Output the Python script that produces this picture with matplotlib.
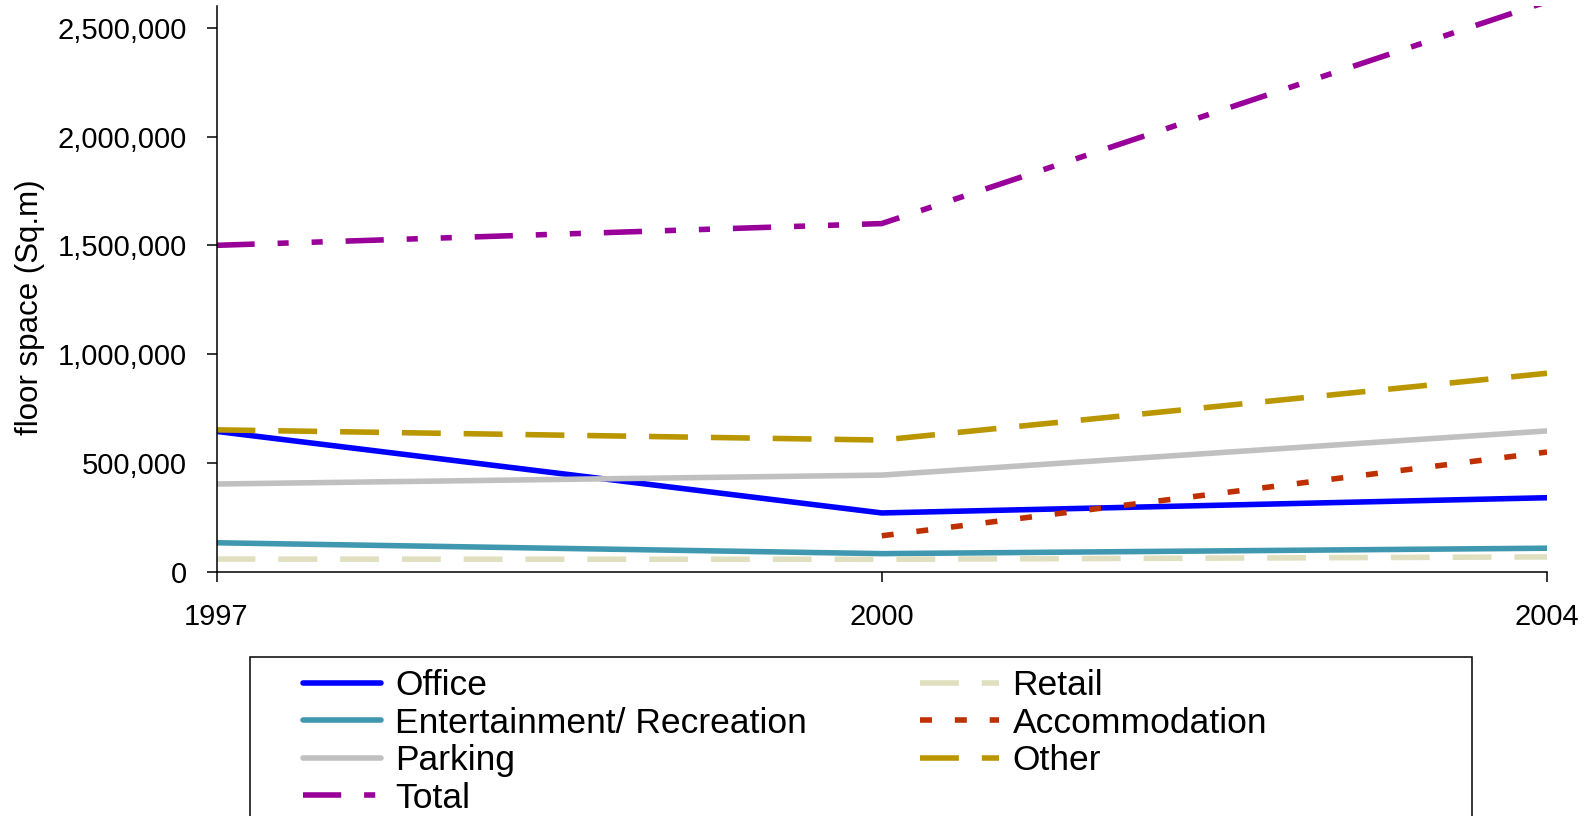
import matplotlib
matplotlib.use("Agg")
import matplotlib.pyplot as plt
from matplotlib.patches import Rectangle
from matplotlib.ticker import FuncFormatter

# Floor space by use, square metres
years = ["1997", "2000", "2004"]
office = [645000, 270000, 340000]
entertainment = [133000, 83000, 108000]
parking = [403000, 444000, 647000]
total = [1500000, 1600000, 2620000]
retail = [58000, 57000, 68000]
accommodation = [None, 165000, 550000]
other = [652000, 605000, 912000]

y_ticks = [0, 500000, 1000000, 1500000, 2000000, 2500000]

plt.rcParams["font.family"] = ["Liberation Sans", "DejaVu Sans"]
plt.rcParams["lines.scale_dashes"] = False

DPI = 100
W, H = 1588, 816
fig = plt.figure(figsize=(W / DPI, H / DPI), dpi=DPI)

left, right, bottom, top = 216.5, 1547, 571.7, 6
ax = fig.add_axes([left / W, 1 - bottom / H, (right - left) / W, (bottom - top) / H])

x = list(range(len(years)))
lw = 4.0
long_dash = (0, (28, 16.5))
total_dash = (0, (27.5, 16.5, 8, 16.5, 8, 16.5))
short_dash = (0, (8.6, 16.5))

series = [
    ("Office", office, "#0000FF", "-"),
    ("Entertainment/ Recreation", entertainment, "#4098B0", "-"),
    ("Parking", parking, "#C0C0C0", "-"),
    ("Total", total, "#990099", total_dash),
    ("Retail", retail, "#E0E0C0", long_dash),
    ("Accommodation", accommodation, "#BF3000", short_dash),
    ("Other", other, "#BA9600", long_dash),
]

handles = {}
for name, vals, color, ls in series:
    xs = [xi for xi, v in zip(x, vals) if v is not None]
    ys = [v for v in vals if v is not None]
    (ln,) = ax.plot(xs, ys, color=color, lw=lw, linestyle=ls,
                    solid_capstyle="round", dash_capstyle="butt")
    handles[name] = ln

ax.set_xlim(0, 2)
ax.set_ylim(0, 2600000)
ax.set_xticks(x)
ax.set_xticklabels(years)
ax.set_yticks(y_ticks)
ax.yaxis.set_major_formatter(FuncFormatter(lambda v, p: f"{int(v):,}"))

for s in ["top", "right"]:
    ax.spines[s].set_visible(False)
for s in ["left", "bottom"]:
    ax.spines[s].set_linewidth(1.1)
    ax.spines[s].set_color("black")

ax.tick_params(axis="y", direction="out", length=7.2, width=1.1, pad=14, labelsize=21)
ax.tick_params(axis="x", direction="out", length=7.2, width=1.1, pad=15, labelsize=21)

ax.set_ylabel("floor space (Sq.m)", fontsize=22.5)
ax.yaxis.label.set_va("center")
ax.yaxis.set_label_coords((30 - left) / (right - left), (bottom - 307) / (bottom - top))

# Legend in two columns, framed by a box that runs off the bottom edge
col1 = ["Office", "Entertainment/ Recreation", "Parking", "Total"]
col2 = ["Retail", "Accommodation", "Other"]
names = col1 + col2
leg = fig.legend([handles[n] for n in names], names,
                 loc="upper left", bbox_to_anchor=(302.5 / W, 1 - 669 / H),
                 bbox_transform=fig.transFigure, ncol=2, frameon=False,
                 fontsize=25.5, handlelength=2.23, handletextpad=0.38,
                 columnspacing=3.2, labelspacing=0.13, borderpad=0,
                 borderaxespad=0)

fig.patches.append(Rectangle((249.6 / W, -0.05), (1472.3 - 249.6) / W,
                             (1 - 656.7 / H) + 0.05, transform=fig.transFigure,
                             fill=False, edgecolor="black", linewidth=1.1))

fig.savefig("out.png", dpi=DPI)
